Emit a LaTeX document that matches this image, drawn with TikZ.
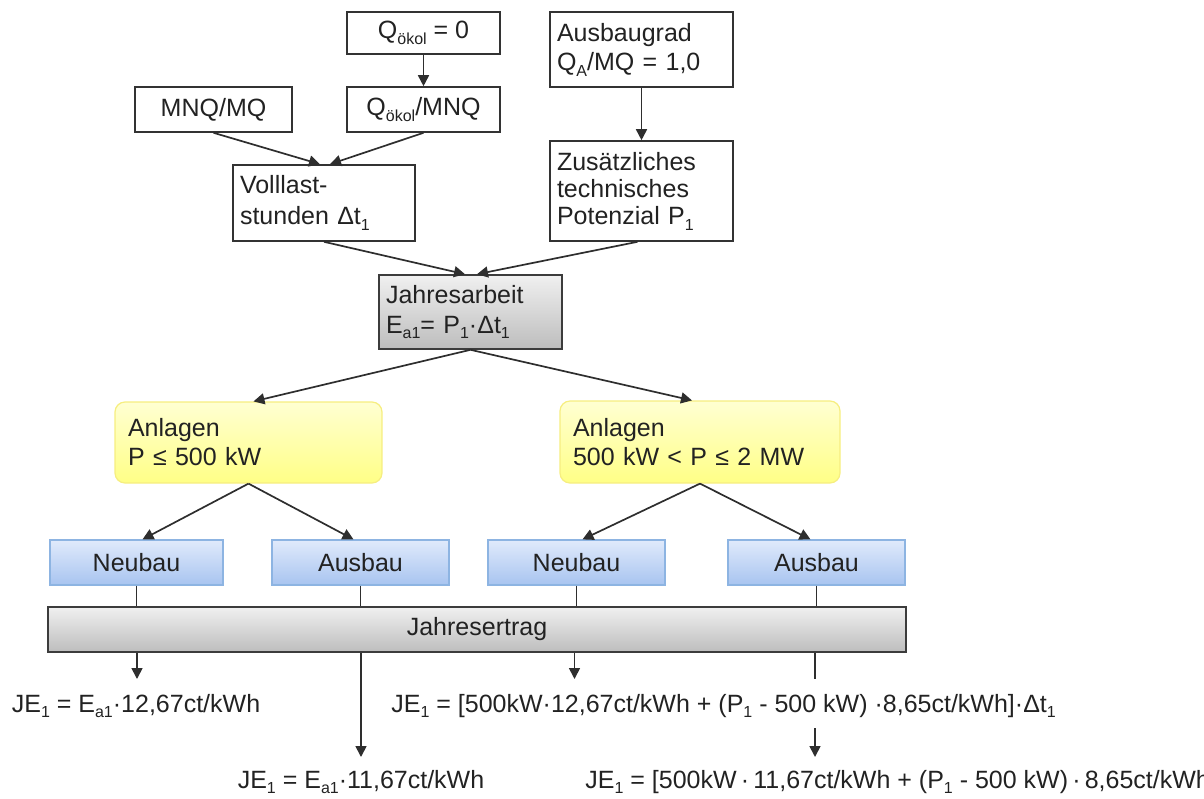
\documentclass[tikz,border=0pt]{standalone}
\usepackage{fontspec}
\setmainfont{Liberation Sans}
\usetikzlibrary{arrows.meta,calc}
\definecolor{txt}{HTML}{222222}
\definecolor{lineclr}{HTML}{2E2E2E}
\definecolor{boxline}{HTML}{333333}
\definecolor{grtop}{HTML}{F0F0F0}
\definecolor{grbot}{HTML}{BDBDBD}
\definecolor{grline}{HTML}{3C3C3C}
\definecolor{bltop}{HTML}{E0EAFB}
\definecolor{blbot}{HTML}{A8C4F0}
\definecolor{blline}{HTML}{8DB4E2}
\definecolor{yetop}{HTML}{FFFFD2}
\definecolor{yebot}{HTML}{FFFF86}
\definecolor{yeline}{HTML}{F6EE80}
\newcommand\lo[1]{\raisebox{-0.45ex}{\fontsize{8}{8}\selectfont #1}}
\begin{document}
\begin{tikzpicture}[x=0.5pt,y=-0.5pt,
  font=\fontsize{12.5}{14.5}\selectfont, text=txt,
  wbox/.style={draw=boxline, line width=0.8pt, fill=white, inner sep=0pt, align=center},
  lbox/.style={align=left, inner xsep=3.5pt, inner ysep=0pt},
  gbox/.style={draw=grline, line width=0.8pt, top color=grtop, bottom color=grbot, inner sep=0pt, align=center},
  bbox/.style={draw=blline, line width=0.6pt, top color=bltop, bottom color=blbot, inner sep=0pt, align=center, minimum height=22.5pt},
  ybox/.style={draw=yeline, line width=0.6pt, top color=yetop, bottom color=yebot, rounded corners=5pt, align=left, inner xsep=6.5pt, inner ysep=0pt},
  arr/.style={draw=lineclr, line width=0.85pt, -{Triangle[length=5.5pt,width=5.5pt]}},
  ln/.style={draw=lineclr, line width=0.85pt},
  formula/.style={inner sep=0pt}]
\useasboundingbox (0,0) rectangle (1204,798);
\clip (0,0) rectangle (1204,798);

% top boxes
\node[wbox, minimum width=76.5pt, minimum height=21pt] (q0) at (423.5,33) {Q\lo{ökol} = 0};
\node[wbox, minimum width=76.5pt, minimum height=22.5pt] (qm) at (423.5,109.5) {Q\lo{ökol}/MNQ};
\node[wbox, minimum width=78.5pt, minimum height=22.5pt] (mnq) at (213.5,109.5) {MNQ/MQ};
\node[wbox, lbox, text width=84pt, minimum height=38pt, font=\fontsize{12.5}{15.5}\selectfont] (voll) at (324,203) {Volllast-\\stunden Δt\lo{1}};
\node[wbox, lbox, text width=84.5pt, minimum height=37.5pt] (ausg) at (641.5,49.5) {Ausbaugrad\\Q\lo{A}/MQ = 1,0};
\node[wbox, lbox, text width=84.5pt, minimum height=50pt, font=\fontsize{12.5}{13.5}\selectfont] (zus) at (641.5,191) {Zusätzliches\\technisches\\Potenzial P\lo{1}};
\node[gbox, lbox, text width=84.5pt, minimum height=37pt, font=\fontsize{12.5}{15}\selectfont] (ja) at (470.5,312) {Jahresarbeit\\E\lo{a1}= P\lo{1}·Δt\lo{1}};

% Anlagen
\node[ybox, text width=120.5pt, minimum height=40.5pt] (anl1) at (248.5,442.5) {Anlagen\\P ≤ 500 kW};
\node[ybox, text width=127pt, minimum height=41pt] (anl2) at (700,442) {Anlagen\\500 kW < P ≤ 2 MW};

% Neubau / Ausbau
\node[bbox, minimum width=86.5pt] (nb1) at (136.5,562.5) {Neubau};
\node[bbox, minimum width=88.5pt] (ab1) at (360.5,562.5) {Ausbau};
\node[bbox, minimum width=88.5pt] (nb2) at (576.5,562.5) {Neubau};
\node[bbox, minimum width=88.5pt] (ab2) at (816.5,562.5) {Ausbau};

% bar
\node[gbox, minimum width=429pt, minimum height=22.5pt] (bar) at (477,629.5) {Jahresertrag};

% formulas
\node[formula, anchor=base] (f1) at (136,712) {JE\lo{1} = E\lo{a1}·12,67ct/kWh};
\node[formula, anchor=base] (f2) at (361,788) {JE\lo{1} = E\lo{a1}·11,67ct/kWh};
\node[formula, anchor=base west] (f3) at (391,712) {JE\lo{1} = [500kW·12,67ct/kWh + (P\lo{1} - 500 kW) ·8,65ct/kWh]·Δt\lo{1}};
\node[formula, anchor=base west] (f4) at (585,788) {JE\lo{1} = [500kW\,·\,11,67ct/kWh + (P\lo{1} - 500 kW)\,·\,8,65ct/kWh]·Δt\lo{1}};

\coordinate (e1) at (137,679);
\coordinate (e2) at (361,757);
\coordinate (e3) at (574.5,679);
\coordinate (e4) at (815,679);
\coordinate (s5) at (815,728);
\coordinate (e5) at (815,757);

% connectors
\draw[arr] (q0) -- (qm);
\draw[arr] (mnq.south) -- ([xshift=-2pt]voll.north);
\draw[arr] (qm.south) -- ([xshift=3pt]voll.north);
\draw[arr] (ausg) -- (zus);
\draw[arr] (voll.south) -- ([xshift=-2.75pt]ja.north);
\draw[arr] ([xshift=-2pt]zus.south) -- ([xshift=3.25pt]ja.north);
\draw[arr] (ja.south) -- ([xshift=2.5pt]anl1.north);
\draw[arr] (ja.south) -- ([xshift=-4pt]anl2.north);
\draw[arr] (anl1.south) -- ([xshift=3pt]nb1.north);
\draw[arr] (anl1.south) -- ([xshift=-3.5pt]ab1.north);
\draw[arr] (anl2.south) -- ([xshift=3pt]nb2.north);
\draw[arr] (anl2.south) -- ([xshift=-3pt]ab2.north);
\foreach \n in {nb1,ab1,nb2,ab2} \draw[ln] (\n.south) -- (\n.south |- bar.north);
\draw[arr] (e1 |- bar.south) -- (e1);
\draw[arr] (e2 |- bar.south) -- (e2);
\draw[arr] (e3 |- bar.south) -- (e3);
\draw[ln] (e4 |- bar.south) -- (e4);
\draw[arr] (s5) -- (e5);
\end{tikzpicture}
\end{document}
